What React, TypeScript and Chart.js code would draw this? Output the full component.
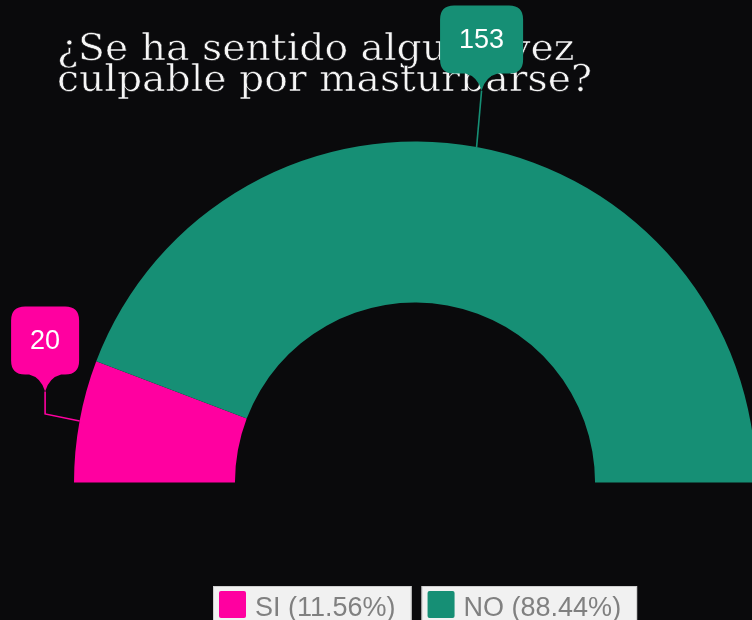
import { useEffect, useRef } from 'react';
import { Chart, registerables } from 'chart.js';

Chart.register(...registerables);

const categories: string[] = ['SI', 'NO'];
const values: number[] = [20, 153];
const colors: string[] = ['#ff00a0', '#168f75'];
const titleLines: string[] = ['¿Se ha sentido alguna vez', 'culpable por masturbarse?'];

const BG = '#0a0a0c';

// callout offsets (tip relative to slice anchor on outer edge)
const calloutStyle = [
  { dx: -34.5, dy: -29.5, elbow: true },
  { dx: 5, dy: -56.5, elbow: false },
];

function drawPin(ctx: CanvasRenderingContext2D, cx: number, tipY: number, w: number, color: string) {
  const h = 68;
  const drop = 17;
  const bottom = tipY - drop;
  const top = bottom - h;
  const left = cx - w / 2;
  const right = cx + w / 2;
  const r = 14;
  ctx.beginPath();
  ctx.moveTo(left + r, top);
  ctx.lineTo(right - r, top);
  ctx.quadraticCurveTo(right, top, right, top + r);
  ctx.lineTo(right, bottom - r);
  ctx.quadraticCurveTo(right, bottom, right - r, bottom);
  ctx.lineTo(cx + 16, bottom);
  ctx.quadraticCurveTo(cx + 4, bottom + 3, cx, tipY);
  ctx.quadraticCurveTo(cx - 4, bottom + 3, cx - 16, bottom);
  ctx.lineTo(left + r, bottom);
  ctx.quadraticCurveTo(left, bottom, left, bottom - r);
  ctx.lineTo(left, top + r);
  ctx.quadraticCurveTo(left, top, left + r, top);
  ctx.closePath();
  ctx.fillStyle = color;
  ctx.fill();
  return (top + bottom) / 2;
}

const decorPlugin = {
  id: 'decor',
  beforeDraw(chart: any) {
    const ctx: CanvasRenderingContext2D = chart.ctx;
    ctx.save();
    ctx.fillStyle = BG;
    ctx.fillRect(0, 0, chart.width, chart.height);
    // title
    ctx.font = '37px "DejaVu Serif"';
    const w = ctx.measureText(titleLines[1]).width;
    const sx = 535 / w;
    ctx.textAlign = 'left';
    ctx.textBaseline = 'alphabetic';
    ctx.translate(57, 0);
    ctx.scale(sx, 1);
    ctx.fillStyle = '#f6f6f6';
    ctx.strokeStyle = BG;
    ctx.lineWidth = 0.6;
    titleLines.forEach((line, i) => {
      const y = i === 0 ? 59.5 : 91;
      ctx.fillText(line, 0, y);
      ctx.strokeText(line, 0, y);
    });
    ctx.restore();
  },
  afterDraw(chart: any) {
    const ctx: CanvasRenderingContext2D = chart.ctx;
    const meta = chart.getDatasetMeta(0);
    ctx.save();
    meta.data.forEach((arc: any, i: number) => {
      const p = arc.getProps(['x', 'y', 'startAngle', 'endAngle', 'outerRadius'], true);
      const mid = (p.startAngle + p.endAngle) / 2;
      const ax = p.x + Math.cos(mid) * p.outerRadius;
      const ay = p.y + Math.sin(mid) * p.outerRadius;
      const st = calloutStyle[i];
      const tx = ax + st.dx;
      const ty = ay + st.dy;
      const color = colors[i];
      ctx.strokeStyle = color;
      ctx.lineWidth = 1.6;
      ctx.beginPath();
      ctx.moveTo(tx, ty);
      if (st.elbow) ctx.lineTo(tx, ay - 7);
      ctx.lineTo(ax, ay);
      ctx.stroke();
      const label = String(values[i]);
      ctx.font = '27px "Liberation Sans", Arial, sans-serif';
      const tw = ctx.measureText(label).width;
      const cy = drawPin(ctx, tx, ty, tw + 38, color);
      ctx.fillStyle = '#ffffff';
      ctx.textAlign = 'center';
      ctx.textBaseline = 'middle';
      ctx.fillText(label, tx, cy + 1);
    });

    // legend
    const total = values.reduce((a, b) => a + b, 0);
    ctx.font = '27px "Liberation Sans", Arial, sans-serif';
    ctx.textAlign = 'left';
    ctx.textBaseline = 'alphabetic';
    let x = 213;
    const top = 586;
    categories.forEach((cat, i) => {
      const text = `${cat} (${((values[i] / total) * 100).toFixed(2)}%)`;
      const tw = ctx.measureText(text).width;
      const bw = 42 + tw + 16;
      ctx.fillStyle = '#f1f1f1';
      ctx.fillRect(x, top, bw, 40);
      ctx.strokeStyle = '#cfcfcf';
      ctx.lineWidth = 1;
      ctx.strokeRect(x + 0.5, top + 0.5, bw - 1, 40);
      ctx.fillStyle = colors[i];
      ctx.beginPath();
      (ctx as any).roundRect(x + 6, top + 5, 27, 27, 2);
      ctx.fill();
      ctx.fillStyle = '#808080';
      ctx.fillText(text, x + 42, 615.5);
      x += bw + 10;
    });
    ctx.restore();
  },
};

export default function App() {
  const ref = useRef<HTMLCanvasElement | null>(null);
  useEffect(() => {
    if (!ref.current) return;
    const chart = new Chart(ref.current, {
      type: 'doughnut',
      data: {
        labels: categories,
        datasets: [
          {
            data: values,
            backgroundColor: colors,
            borderWidth: 0,
            hoverOffset: 0,
          },
        ],
      },
      options: {
        responsive: false,
        animation: false,
        devicePixelRatio: 1,
        rotation: -90,
        circumference: 180,
        radius: 341,
        cutout: '52.8%',
        events: [],
        layout: { padding: { left: 78, right: 0, top: 4, bottom: 0 } },
        plugins: {
          legend: { display: false },
          title: { display: false },
          tooltip: { enabled: false },
        },
      } as any,
      plugins: [decorPlugin],
    });
    return () => chart.destroy();
  }, []);
  return (
    <div style={{ position: 'fixed', left: 0, top: 0, width: 752, height: 620, background: BG, overflow: 'hidden' }}>
      <canvas ref={ref} width={752} height={620} style={{ display: 'block', width: 752, height: 620 }} />
    </div>
  );
}
